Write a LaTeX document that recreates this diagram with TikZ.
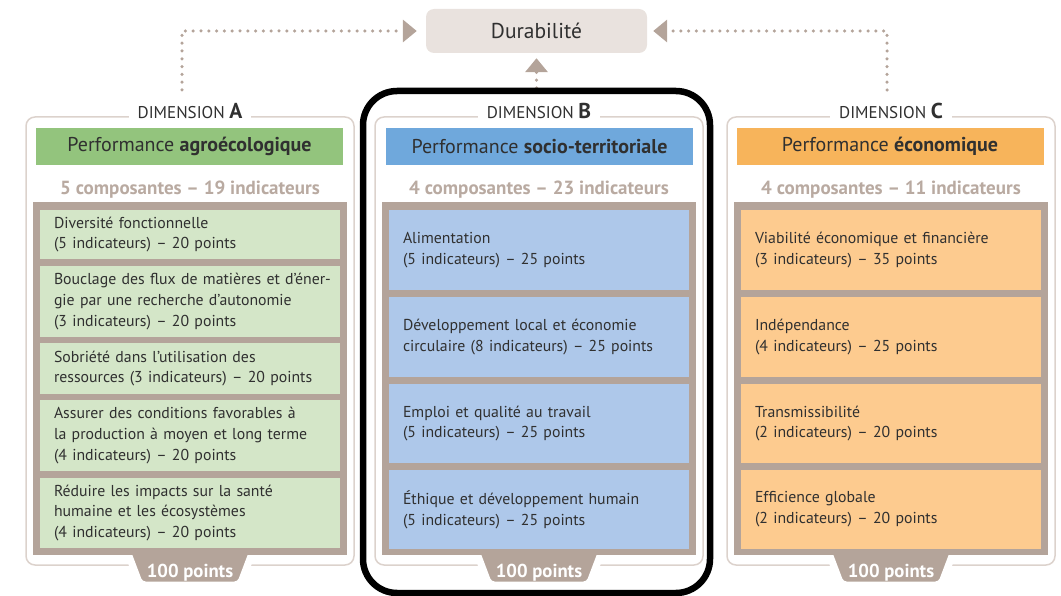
\documentclass[tikz,border=0pt]{standalone}
\usepackage{fontspec}
\setmainfont{PT Sans}
\usetikzlibrary{arrows.meta,positioning}
\definecolor{taupe}{HTML}{B4A49A}
\definecolor{counttext}{HTML}{B9AAA1}
\definecolor{framegrey}{HTML}{DCD2CC}
\definecolor{textgrey}{HTML}{303030}
\definecolor{durfill}{HTML}{E9E2DE}
\definecolor{greenhead}{HTML}{93C47D}
\definecolor{greenitem}{HTML}{D4E6C8}
\definecolor{bluehead}{HTML}{6FA8DC}
\definecolor{blueitem}{HTML}{AEC8EA}
\definecolor{orangehead}{HTML}{F7B45B}
\definecolor{orangeitem}{HTML}{FDCB8F}
\tikzset{
  frame/.style={draw=framegrey, line width=1.5pt, rounded corners=9pt},
  dimlabel/.style={fill=white, inner xsep=9pt, inner ysep=3pt, text=textgrey,
    font=\fontsize{17}{20}\selectfont},
  header/.style={minimum width=307pt, minimum height=37pt, inner sep=0pt,
    text=textgrey, font=\fontsize{20}{24}\selectfont},
  count/.style={text=counttext, font=\fontsize{19}{22}\bfseries\selectfont},
  holder/.style={fill=taupe, minimum width=314pt, minimum height=353pt, inner sep=0pt},
  item/.style={text width=272pt, inner xsep=14pt, inner ysep=0pt, align=left,
    text=textgrey, font=\fontsize{15.8}{20.8}\selectfont},
  tab/.style={fill=taupe, draw=white, line width=7pt, rounded corners=5pt},
  pts/.style={text=white, font=\fontsize{18.7}{22}\bfseries\selectfont},
  dotline/.style={draw=taupe, line width=3.5pt, line cap=round,
    dash pattern=on 0pt off 7.8pt, -{Triangle[length=14pt,width=22pt]}}
}
\begin{document}
\begin{tikzpicture}[x=1pt,y=-1pt]
  \useasboundingbox (0,0) rectangle (1061,596);
  % top box and links
  \node[fill=durfill, rounded corners=8pt, minimum width=221pt, minimum height=44pt,
    text=textgrey, font=\fontsize{21.5}{24}\selectfont] (dur) at (536.5,31) {Durabilité};
  \coordinate (ta) at (182,90);
  \coordinate (tb) at (536.5,88);
  \coordinate (tc) at (887,90);
  \draw[dotline, shorten >=9pt] (ta) |- (dur.west);
  \draw[dotline, shorten >=5pt] (tb) -- (dur.south);
  \draw[dotline, shorten >=6pt] (tc) |- (dur.east);
  % the three columns
  \foreach \cx/\l in {190/A,539/B,891/C}{
    \draw[frame] (\cx-164,117) rectangle (\cx+164,565);
    \node[dimlabel, anchor=base] (dim\l) at (\cx,119)
      {DIMENSION {\fontsize{21.5}{24}\bfseries\selectfont\l}};
    \path[tab] (\cx-64,548) -- (\cx+64,548) -- (\cx+50,585) -- (\cx-50,585) -- cycle;
    \node[holder] (box\l) at (\cx,378.5) {};
    \node[pts, anchor=base] (pts\l) at (\cx,577) {100 points};
  }
  \node[header, fill=greenhead] (headA) at (189.5,146.5) {Performance \textbf{agroécologique}};
  \node[header, fill=bluehead] (headB) at (539.5,146.5) {Performance \textbf{socio-territoriale}};
  \node[header, fill=orangehead] (headC) at (890,146.5) {Performance \textbf{économique}};
  \node[count, anchor=base] (cntA) at (190,195) {5 composantes – 19 indicateurs};
  \node[count, anchor=base] (cntB) at (539,195) {4 composantes – 23 indicateurs};
  \node[count, anchor=base] (cntC) at (891,195) {4 composantes – 11 indicateurs};
  % dimension A
  \node[item, fill=greenitem, minimum height=49pt] (a1) at (190,234.5)
    {Diversité fonctionnelle\\(5 indicateurs) – 20 points};
  \node[item, fill=greenitem, minimum height=71pt] (a2) at (190,301.5)
    {\mbox{Bouclage des flux de matières et d’éner-}\\gie par une recherche d’autonomie\\(3 indicateurs) – 20 points};
  \node[item, fill=greenitem, minimum height=51pt] (a3) at (190,368.5)
    {Sobriété dans l’utilisation des\\ressources (3 indicateurs) – 20 points};
  \node[item, fill=greenitem, minimum height=71pt] (a4) at (190,435.5)
    {Assurer des conditions favorables à\\la production à moyen et long terme\\(4 indicateurs) – 20 points};
  \node[item, fill=greenitem, minimum height=70pt] (a5) at (190,513)
    {Réduire les impacts sur la santé\\humaine et les écosystèmes\\(4 indicateurs) – 20 points};
  % dimension B
  \node[item, fill=blueitem, minimum height=80pt] (b1) at (539,250)
    {Alimentation\\(5 indicateurs) – 25 points};
  \node[item, fill=blueitem, minimum height=80pt] (b2) at (539,337)
    {Développement local et économie\\circulaire (8 indicateurs) – 25 points};
  \node[item, fill=blueitem, minimum height=79pt] (b3) at (539,423.5)
    {Emploi et qualité au travail\\(5 indicateurs) – 25 points};
  \node[item, fill=blueitem, minimum height=79pt] (b4) at (539,509.5)
    {Éthique et développement humain\\(5 indicateurs) – 25 points};
  % dimension C
  \node[item, fill=orangeitem, minimum height=80pt] (c1) at (891,250)
    {Viabilité économique et financière\\(3 indicateurs) – 35 points};
  \node[item, fill=orangeitem, minimum height=80pt] (c2) at (891,337)
    {Indépendance\\(4 indicateurs) – 25 points};
  \node[item, fill=orangeitem, minimum height=79pt] (c3) at (891,423.5)
    {Transmissibilité\\(2 indicateurs) – 20 points};
  \node[item, fill=orangeitem, minimum height=79pt] (c4) at (891,509.5)
    {Efficience globale\\(2 indicateurs) – 20 points};
  % highlight of dimension B
  \draw[line width=6.5pt, rounded corners=34pt] (363,91) rectangle (710,593);
\end{tikzpicture}
\end{document}
